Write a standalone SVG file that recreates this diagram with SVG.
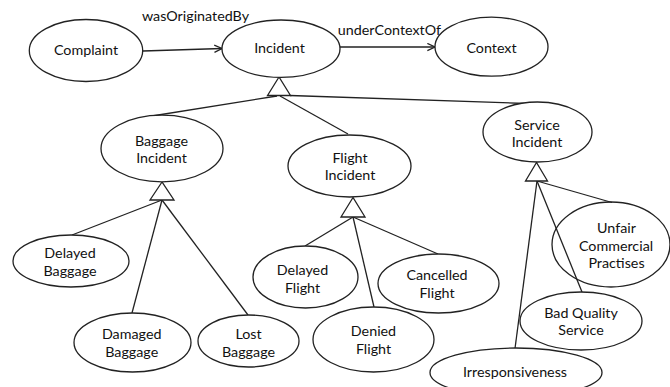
<svg xmlns="http://www.w3.org/2000/svg" width="670" height="387" viewBox="0 0 670 387">
<defs>
<style>
.n ellipse{fill:#fff;stroke:#222;stroke-width:1.3}
text{font-family:Lato,"Liberation Sans",sans-serif;font-size:14.3px;fill:#111;text-anchor:middle}
.c line,.c path{stroke:#222;stroke-width:1.3;fill:none}
.g{fill:#fff;stroke:#222;stroke-width:1.3}
</style>
<marker id="arr" viewBox="0 0 10 10" refX="9.5" refY="5" markerWidth="9" markerHeight="9" markerUnits="userSpaceOnUse" orient="auto">
<path d="M1,1 L9.5,5 L1,9" fill="none" stroke="#222" stroke-width="1.4"/>
</marker>
</defs>
<rect width="670" height="387" fill="#fff"/>
<g class="c" id="connectors">
<line x1="143" y1="51" x2="222" y2="48.5" marker-end="url(#arr)"/>
<line x1="340" y1="47" x2="435" y2="47" marker-end="url(#arr)"/>
<line x1="277" y1="96" x2="152" y2="116"/>
<line x1="280" y1="96" x2="348" y2="134"/>
<line x1="290" y1="95.5" x2="527" y2="103.5"/>
<line x1="162" y1="200" x2="72" y2="235"/>
<line x1="162" y1="200" x2="132" y2="313"/>
<line x1="162" y1="200" x2="248" y2="315"/>
<line x1="353" y1="217" x2="305" y2="246"/>
<line x1="353" y1="217" x2="374" y2="307"/>
<line x1="353" y1="217" x2="438" y2="254"/>
<line x1="537" y1="181" x2="612" y2="202.5"/>
<line x1="537" y1="181" x2="582" y2="292"/>
<line x1="537" y1="181" x2="515" y2="348.5"/>
<polygon class="g" points="279,77 267.5,95.5 290.5,95.5"/>
<polygon class="g" points="162,182 150,200 174,200"/>
<polygon class="g" points="353,197.5 341,217 365,217"/>
<polygon class="g" points="536.5,162.5 525.5,181 547.5,181"/>
<text x="195.5" y="20.5">wasOriginatedBy</text>
<text x="389.5" y="35">underContextOf</text>
</g>
<g class="n" id="complaint"><ellipse cx="86" cy="50.5" rx="56.7" ry="31"/><text x="86" y="55">Complaint</text></g>
<g class="n" id="incident"><ellipse cx="281" cy="48.7" rx="59" ry="28.7"/><text x="279.5" y="52.5">Incident</text></g>
<g class="n" id="context"><ellipse cx="491.5" cy="46.7" rx="56.5" ry="29.5"/><text x="491.5" y="52.5">Context</text></g>
<g class="n" id="baggage-incident"><ellipse cx="162" cy="148.5" rx="61" ry="33.3"/><text x="161.5" y="145.5">Baggage</text><text x="161.5" y="162.5">Incident</text></g>
<g class="n" id="flight-incident"><ellipse cx="349.5" cy="166" rx="61.5" ry="31"/><text x="350" y="162.5">Flight</text><text x="350" y="180">Incident</text></g>
<g class="n" id="service-incident"><ellipse cx="537.5" cy="132" rx="54.5" ry="30"/><text x="537" y="129.5">Service</text><text x="537" y="146.5">Incident</text></g>
<g class="n" id="delayed-baggage"><ellipse cx="71" cy="261" rx="58" ry="26"/><text x="70" y="257.5">Delayed</text><text x="70" y="275.5">Baggage</text></g>
<g class="n" id="damaged-baggage"><ellipse cx="132.5" cy="342.5" rx="58.5" ry="29.5"/><text x="131.7" y="338.5">Damaged</text><text x="131.7" y="356.5">Baggage</text></g>
<g class="n" id="lost-baggage"><ellipse cx="248.5" cy="341" rx="50.5" ry="26"/><text x="248.5" y="338.5">Lost</text><text x="248.5" y="356.5">Baggage</text></g>
<g class="n" id="delayed-flight"><ellipse cx="305.5" cy="277" rx="52.5" ry="31"/><text x="302.5" y="275">Delayed</text><text x="302.5" y="292.5">Flight</text></g>
<g class="n" id="denied-flight"><ellipse cx="373.5" cy="339.5" rx="60.5" ry="32.5"/><text x="373.5" y="335.5">Denied</text><text x="373.5" y="353.5">Flight</text></g>
<g class="n" id="cancelled-flight"><ellipse cx="438.5" cy="283.5" rx="60.5" ry="29.5"/><text x="437" y="280">Cancelled</text><text x="437" y="297.5">Flight</text></g>
<g class="n" id="unfair-commercial-practises"><ellipse cx="611" cy="244.5" rx="59" ry="42.5" style="fill:none"/><text x="616.5" y="232.5">Unfair</text><text x="616" y="250.5">Commercial</text><text x="616.5" y="268">Practises</text></g>
<g class="n" id="bad-quality-service"><ellipse cx="581" cy="321" rx="61" ry="29"/><text x="581" y="317.5">Bad Quality</text><text x="581" y="335">Service</text></g>
<g class="n" id="irresponsiveness"><ellipse cx="516" cy="372.5" rx="86" ry="24.5"/><text x="515" y="377">Irresponsiveness</text></g>
</svg>
